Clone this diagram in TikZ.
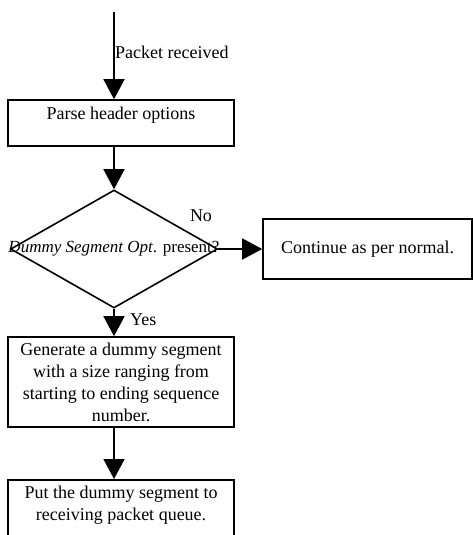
\documentclass[tikz,border=0pt]{standalone}
\usepackage{fontspec}
\setmainfont{Liberation Serif}
\usepackage{tikz}
\usetikzlibrary{shapes.geometric,arrows.meta,positioning}

\begin{document}
\begin{tikzpicture}[x=1pt,y=-1pt,font=\fontsize{18}{22}\selectfont,
  stepbox/.style={draw,line width=1.6pt,rectangle,inner xsep=0pt,align=center},
  decision/.style={draw,line width=1.6pt,diamond,inner sep=0pt,aspect=1.75},
  flow/.style={line width=1.6pt,-{Triangle[length=20pt,width=21pt]}}]
  \useasboundingbox (0,0) rectangle (473,535);
  \clip (0,0) rectangle (473,535);
  % boxes and decision
  \coordinate (start) at (114,12);
  \node[stepbox,minimum width=226pt,text height=13pt,text depth=21pt,inner ysep=6pt] (parse) at (121,123) {Parse header options};
  \node[decision,minimum width=207pt,minimum height=118pt] (check) at (114,249) {};
  \node[font=\fontsize{17}{22}\selectfont] (checktxt) at (check.center) {\textit{Dummy Segment Opt}. present?};
  \node[stepbox,minimum width=209pt,minimum height=60pt] (normal) at (367.5,249) {Continue as per normal.};
  \node[stepbox,minimum width=226pt,minimum height=90pt,inner ysep=2pt] (gen) at (121,382)
    {Generate a dummy segment\\with a size ranging from\\starting to ending sequence\\number.};
  \node[stepbox,minimum width=226pt,inner ysep=6pt,anchor=north] (put) at (121,479)
    {Put the dummy segment to\\receiving packet queue.\\\mbox{}};
  % labels
  \node[anchor=west,inner sep=0pt] (rcvd) at (115,52) {Packet received};
  \node (no) at (201,216) {No};
  \node[anchor=west,inner sep=0pt] (yes) at (130,320) {Yes};
  % connectors
  \draw[flow] (start) -- (start |- parse.north);
  \draw[flow] (check.north |- parse.south) -- (check.north);
  \draw[flow] (check.east) -- (normal.west);
  \draw[flow] (check.south) -- (check.south |- gen.north);
  \draw[flow] (check.south |- gen.south) -- (check.south |- put.north);
\end{tikzpicture}
\end{document}
